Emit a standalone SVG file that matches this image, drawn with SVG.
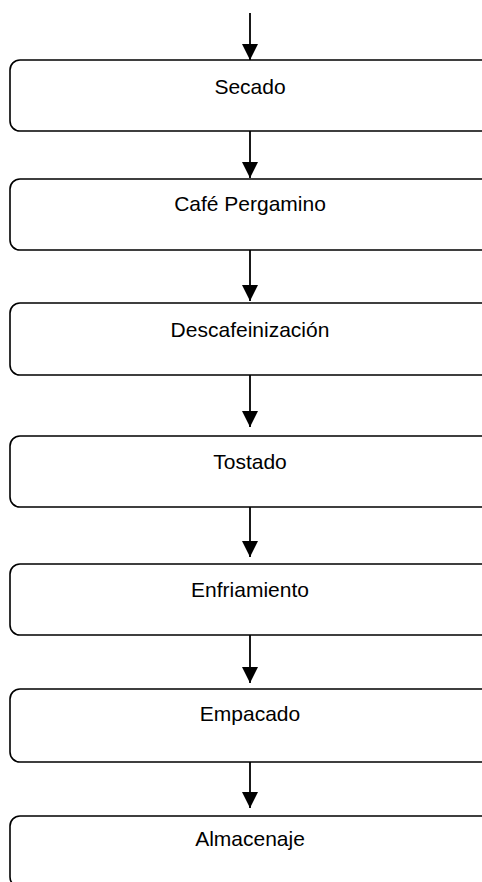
<svg xmlns="http://www.w3.org/2000/svg" width="482" height="882" viewBox="0 0 482 882">
<style>
.box{fill:#fff;stroke:#000;stroke-width:1.6}
.lbl{font-family:"Liberation Sans",Arial,sans-serif;font-size:21px;fill:#000;text-anchor:middle}
.con{stroke:#000;stroke-width:1.8;fill:none}
</style>
<defs>
<marker id="ah" markerUnits="userSpaceOnUse" markerWidth="16" markerHeight="16" refX="16" refY="8" orient="auto">
<path d="M0,0 L16,8 L0,16 Z" fill="#000"/>
</marker>
</defs>
<rect width="482" height="882" fill="#fff"/>
<g id="connectors">
<line class="con" x1="250" y1="13" x2="250" y2="60" marker-end="url(#ah)"/>
<line class="con" x1="250" y1="131" x2="250" y2="178" marker-end="url(#ah)"/>
<line class="con" x1="250" y1="250" x2="250" y2="301" marker-end="url(#ah)"/>
<line class="con" x1="250" y1="375" x2="250" y2="427" marker-end="url(#ah)"/>
<line class="con" x1="250" y1="507" x2="250" y2="557" marker-end="url(#ah)"/>
<line class="con" x1="250" y1="635" x2="250" y2="683" marker-end="url(#ah)"/>
<line class="con" x1="250" y1="762" x2="250" y2="808" marker-end="url(#ah)"/>
</g>
<g id="n1"><rect class="box" x="10" y="60" width="481" height="71" rx="10"/><text class="lbl" x="250" y="94">Secado</text></g>
<g id="n2"><rect class="box" x="10" y="179" width="481" height="71" rx="10"/><text class="lbl" x="250" y="211">Café Pergamino</text></g>
<g id="n3"><rect class="box" x="10" y="303" width="481" height="72" rx="10"/><text class="lbl" x="250" y="337">Descafeinización</text></g>
<g id="n4"><rect class="box" x="10" y="436" width="481" height="71" rx="10"/><text class="lbl" x="250" y="469">Tostado</text></g>
<g id="n5"><rect class="box" x="10" y="564" width="481" height="71" rx="10"/><text class="lbl" x="250" y="597">Enfriamiento</text></g>
<g id="n6"><rect class="box" x="10" y="689" width="481" height="73" rx="10"/><text class="lbl" x="250" y="721">Empacado</text></g>
<g id="n7"><rect class="box" x="10" y="816" width="481" height="71" rx="10"/><text class="lbl" x="250" y="846">Almacenaje</text></g>
</svg>
